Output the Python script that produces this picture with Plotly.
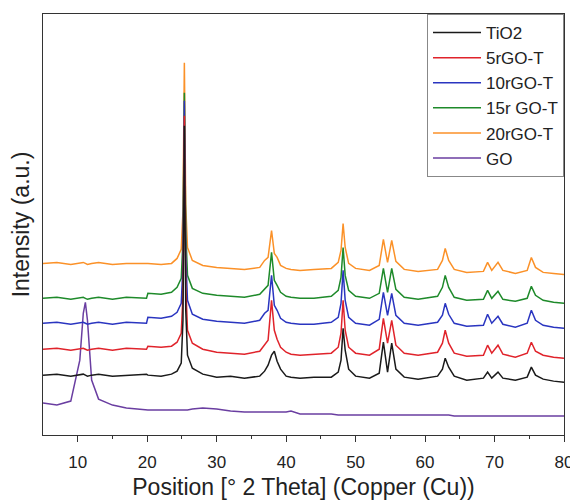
import plotly.graph_objects as go

two_theta = [5, 7, 9, 10.3, 10.8, 11.1, 11.4, 12, 13, 15, 17, 19.9, 20.1, 22, 23.5, 24.3, 24.9,
             25.15, 25.35, 25.55, 25.8, 26.5, 28, 30, 32, 34, 36.2, 36.9, 37.4, 37.9, 38.3, 38.7,
             39.2, 40, 40.7, 42, 44, 46.5, 47.5, 47.9, 48.2, 48.5, 49, 50, 52, 53.4, 54.0, 54.6,
             55.2, 55.8, 57, 59, 61.8, 62.5, 62.9, 63.4, 64.2, 66, 68.4, 69.0, 69.6, 70.5, 71.2,
             73, 74.7, 75.3, 75.9, 77, 78.5, 80]

tio2 = [60, 61, 59, 60, 61, 60, 59, 60, 61, 59, 60, 61, 60, 59, 61, 64, 72,
        115, 310, 125, 80, 67, 61, 58, 59, 57, 59, 64, 70, 80, 84, 74,
        66, 59, 58, 57, 58, 58, 63, 75, 107, 85, 66, 59, 57, 62, 93, 63,
        92, 66, 58, 56, 59, 66, 77, 68, 59, 55, 57, 63, 57, 63, 57,
        55, 58, 68, 60, 56, 54, 53]

rgo5 = [86, 87, 85, 86, 87, 86, 85, 86, 87, 85, 87, 86, 89, 88, 89, 93, 102,
        140, 320, 150, 105, 92, 86, 83, 82, 81, 84, 90, 95, 135, 105, 96,
        88, 83, 81, 80, 81, 82, 88, 102, 135, 105, 88, 82, 80, 86, 117, 92,
        115, 90, 82, 80, 83, 92, 105, 92, 82, 79, 80, 90, 82, 90, 81,
        78, 82, 93, 84, 80, 78, 77]

rgo10 = [112, 113, 111, 112, 113, 112, 111, 112, 113, 111, 113, 112, 118, 117, 119, 123, 132,
         170, 335, 180, 135, 121, 116, 114, 113, 112, 115, 122, 125, 160, 130, 125,
         117, 113, 112, 111, 111, 113, 118, 132, 165, 135, 118, 112, 110, 116, 143, 120,
         142, 120, 112, 110, 113, 120, 132, 121, 112, 109, 110, 121, 112, 119, 111,
         108, 112, 125, 115, 110, 108, 107]

rgo15 = [137, 138, 136, 137, 138, 137, 136, 137, 138, 136, 138, 137, 142, 141, 143, 148, 157,
         195, 343, 205, 160, 147, 142, 140, 139, 138, 141, 146, 150, 183, 155, 150,
         143, 139, 138, 137, 137, 139, 145, 158, 188, 160, 145, 139, 137, 142, 167, 143,
         167, 146, 138, 136, 139, 148, 160, 148, 138, 135, 136, 145, 137, 144, 136,
         134, 137, 149, 140, 135, 133, 132]

rgo20 = [172, 173, 171, 172, 173, 172, 171, 172, 173, 171, 172, 172, 172, 171, 172, 177, 186,
         225, 373, 230, 188, 175, 170, 168, 167, 166, 168, 175, 178, 205, 182, 178,
         170, 167, 166, 165, 166, 167, 173, 185, 212, 188, 172, 167, 165, 170, 196, 173,
         195, 174, 166, 164, 166, 175, 187, 175, 166, 163, 164, 173, 165, 173, 165,
         162, 165, 178, 168, 163, 162, 161]

go_curve = [32, 30, 34, 75, 122, 133, 115, 55, 36, 30, 27, 25, 25, 25, 25, 25, 25,
            25, 25, 25, 25, 26, 27, 26, 24, 23, 23, 23, 23, 23, 23, 23,
            23, 23, 24, 21, 21, 21, 20, 20, 20, 20, 20, 20, 20, 20, 20, 20,
            20, 20, 20, 20, 20, 20, 20, 20, 19, 19, 19, 19, 19, 19, 19,
            19, 19, 19, 19, 19, 19, 19]

names = ["TiO2", "5rGO-T", "10rGO-T", "15r GO-T", "20rGO-T", "GO"]
series = [tio2, rgo5, rgo10, rgo15, rgo20, go_curve]
colors = ["#1a1a1a", "#e0232b", "#2a35c0", "#1e8a2a", "#fb9128", "#6a3ea1"]

x_ticks = [10, 20, 30, 40, 50, 60, 70, 80]
x_minor = [15, 25, 35, 45, 55, 65, 75]

fig = go.Figure()
# draw in reverse so TiO2 ends on top; legend reversed to keep TiO2 first
for name, ys, col in reversed(list(zip(names, series, colors))):
    fig.add_trace(go.Scatter(x=two_theta, y=ys, mode="lines", name=name,
                             line=dict(color=col, width=1.5)))

font_family = "Arial, Liberation Sans, sans-serif"
# the page body adds an 8px offset, so the figure is 8px smaller and margins shifted
fig.update_layout(
    width=570, height=494,
    margin=dict(l=35, r=10, t=5, b=67),
    paper_bgcolor="white", plot_bgcolor="white",
    font=dict(family=font_family, color="#222", size=17),
    showlegend=True,
    legend=dict(x=1, y=1, xanchor="right", yanchor="top", traceorder="reversed",
                bgcolor="white", bordercolor="#888", borderwidth=1, itemwidth=48,
                font=dict(size=17, family=font_family, color="#222")),
    xaxis=dict(range=[5, 80], tickvals=x_ticks, ticks="outside", ticklen=6,
               tickcolor="#333", tickwidth=1.2, ticklabelstandoff=5,
               minor=dict(tickvals=x_minor, ticks="outside", ticklen=3, tickcolor="#333"),
               showline=True, linecolor="#333", linewidth=1.3, mirror=True,
               showgrid=False, zeroline=False,
               tickfont=dict(size=17),
               title=dict(text="Position [° 2 Theta] (Copper (Cu))", font=dict(size=23),
                          standoff=8)),
    yaxis=dict(range=[0, 422], showticklabels=False, ticks="",
               showline=True, linecolor="#333", linewidth=1.3, mirror=True,
               showgrid=False, zeroline=False,
               title=dict(text="Intensity (a.u.)", font=dict(size=23), standoff=9)),
)

fig.write_html("out.html")
